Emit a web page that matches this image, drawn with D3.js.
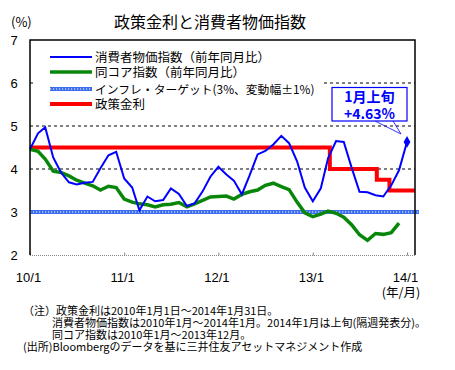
<!DOCTYPE html>
<html><head><meta charset="utf-8">
<script src="https://cdn.jsdelivr.net/npm/d3@7"></script>
<style>
html,body{margin:0;padding:0;background:#fff;}
text{font-family:"Noto Sans CJK JP","Noto Sans",sans-serif;}
.num{font-family:"Liberation Sans",Arial,sans-serif;}
</style>
</head><body>
<svg id="c" width="455" height="370"></svg>
<script>
// ---- data ----
const cpiStart = "2010-01";
const cpi = [4.46,4.83,4.97,4.27,3.92,3.69,3.64,3.68,3.70,4.02,4.32,4.40,
             3.78,3.57,3.04,3.36,3.25,3.28,3.55,3.42,3.14,3.20,3.48,3.82,
             4.05,3.87,3.73,3.41,3.85,4.34,4.42,4.57,4.77,4.60,4.18,3.57,
             3.25,3.55,4.25,4.65,4.63,4.02,3.47,3.46,3.39,3.36,3.62,3.97,
             4.63];
const core = [4.46,4.41,4.23,3.95,3.92,3.84,3.74,3.67,3.61,3.51,3.60,3.57,
              3.30,3.23,3.19,3.17,3.12,3.17,3.18,3.22,3.12,3.19,3.27,3.35,
              3.36,3.37,3.30,3.41,3.47,3.51,3.62,3.67,3.59,3.52,3.23,2.98,
              2.89,2.95,3.02,2.97,2.88,2.70,2.47,2.34,2.50,2.48,2.52,2.74];
const rateDates = ["2010-01-01","2013-03-08","2013-09-06","2013-10-25","2014-01-31"];
const rateValues = [4.5,4.0,3.75,3.5,3.5];
const target = 3.0;
const yTicks = [2,3,4,5,6,7];
const xTickDates = ["2010-01-01","2011-01-01","2012-01-01","2013-01-01","2014-01-01"];
const xTickLabels = ["10/1","11/1","12/1","13/1","14/1"];
const legendLabels = ["消費者物価指数（前年同月比）","同コア指数（前年同月比）","インフレ・ターゲット(3%、変動幅±1%)","政策金利"];
const title = "政策金利と消費者物価指数";
const calloutLines = ["1月上旬","+4.63%"];
const notes = ["（注）政策金利は2010年1月1日～2014年1月31日。",
               "消費者物価指数は2010年1月～2014年1月。2014年1月は上旬(隔週発表分)。",
               "同コア指数は2010年1月～2013年12月。",
               "(出所)Bloombergのデータを基に三井住友アセットマネジメント作成"];

// ---- setup ----
const parse = d3.utcParse("%Y-%m-%d");
const monthDate = i => d3.utcMonth.offset(parse(cpiStart+"-01"), i);
const cpiData = cpi.map((v,i)=>({d:monthDate(i),v}));
const coreData = core.map((v,i)=>({d:monthDate(i),v}));
const rateData = rateDates.map((s,i)=>({d:parse(s),v:rateValues[i]}));

const L=30,R=415,T=40,B=255;
const x = d3.scaleUtc().domain([parse("2010-01-01"),parse("2014-02-01")]).range([L,R]);
const y = d3.scaleLinear().domain([2,7]).range([B,T]);
const svg = d3.select("#c");

// gridlines
svg.append("g").selectAll("line").data([4,5,6]).join("line")
  .attr("x1",L).attr("x2",R).attr("y1",d=>y(d)).attr("y2",d=>y(d))
  .attr("stroke","#000").attr("stroke-width",1).attr("stroke-dasharray","3,3");

// bottom axis (gray dotted) with ticks
svg.append("line").attr("x1",L).attr("x2",R).attr("y1",B+0.5).attr("y2",B+0.5)
  .attr("stroke","#888").attr("stroke-width",1).attr("stroke-dasharray","1,1");
const xa = d3.axisBottom(x).tickValues(xTickDates.map(parse)).tickFormat((d,i)=>xTickLabels[i]).tickSizeInner(-3).tickSizeOuter(0).tickPadding(17);
const gx = svg.append("g").attr("transform",`translate(0,${B+0.5})`).call(xa);
gx.select(".domain").remove();
gx.selectAll(".tick line").attr("stroke","#888");
gx.selectAll(".tick text").attr("class","num").attr("font-size",13).attr("fill","#000").attr("dx",-2);

// y labels
const ya = d3.axisLeft(y).tickValues(yTicks).tickSize(0).tickPadding(10).tickFormat(d3.format("d"));
const gy = svg.append("g").attr("transform",`translate(${L},0)`).call(ya);
gy.select(".domain").remove();
gy.selectAll(".tick text").attr("class","num").attr("font-size",13).attr("fill","#000").attr("text-anchor","middle").attr("dx",-6);

// target line
const tl = d3.line().x(d=>d[0]).y(d=>d[1]);
const tpts = [[L,y(target)],[R+4,y(target)]];
svg.append("path").attr("d",tl(tpts)).attr("stroke","#3a6cf0").attr("stroke-width",4).attr("fill","none");
svg.append("path").attr("d",tl(tpts)).attr("stroke","#fff").attr("stroke-width",1.2).attr("stroke-dasharray","1.2,1.8").attr("fill","none");

// lines
const line = d3.line().x(d=>x(d.d)).y(d=>y(d.v));
svg.append("path").datum(rateData).attr("d",line.curve(d3.curveStepAfter))
  .attr("fill","none").attr("stroke","#ff0000").attr("stroke-width",4);
line.curve(d3.curveLinear);
svg.append("path").datum(coreData).attr("d",line)
  .attr("fill","none").attr("stroke","#0a8a0a").attr("stroke-width",3.5);
svg.append("path").datum(coreData).attr("d",line)
  .attr("fill","none").attr("stroke","#055a05").attr("stroke-width",1).attr("stroke-dasharray","1,2").attr("opacity",0.6);
svg.append("path").datum(cpiData).attr("d",line)
  .attr("fill","none").attr("stroke","#0000ff").attr("stroke-width",2);

// last point diamond
const last = cpiData[cpiData.length-1];
svg.append("path").attr("d",d3.symbol(d3.symbolDiamond,40)())
  .attr("transform",`translate(${x(last.d)},${y(last.v)})`).attr("fill","#0000ff");

// frame
svg.append("path").attr("d",`M${L},${B}V${T}H${R}V${B}`).attr("fill","none").attr("stroke","#000").attr("stroke-width",1.5);

// legend
svg.append("rect").attr("x",36).attr("y",45).attr("width",286).attr("height",68).attr("fill","#fff");
const ly = [57,72,89,104];
const lg = svg.append("g");
lg.append("line").attr("x1",50).attr("x2",92).attr("y1",ly[0]).attr("y2",ly[0]).attr("stroke","#0000ff").attr("stroke-width",2);
lg.append("line").attr("x1",50).attr("x2",92).attr("y1",ly[1]).attr("y2",ly[1]).attr("stroke","#0a8a0a").attr("stroke-width",3.5);
lg.append("line").attr("x1",50).attr("x2",92).attr("y1",ly[1]).attr("y2",ly[1]).attr("stroke","#055a05").attr("stroke-width",1).attr("stroke-dasharray","1,2").attr("opacity",0.6);
lg.append("line").attr("x1",50).attr("x2",92).attr("y1",ly[2]).attr("y2",ly[2]).attr("stroke","#3a6cf0").attr("stroke-width",4);
lg.append("line").attr("x1",50).attr("x2",92).attr("y1",ly[2]).attr("y2",ly[2]).attr("stroke","#fff").attr("stroke-width",1.2).attr("stroke-dasharray","1.2,1.8");
lg.append("line").attr("x1",50).attr("x2",92).attr("y1",ly[3]).attr("y2",ly[3]).attr("stroke","#ff0000").attr("stroke-width",4);
lg.selectAll("text").data(legendLabels).join("text")
  .attr("x",95).attr("y",(d,i)=>ly[i]+4.5).attr("font-size",(d,i)=>i===2?11.8:12.5).attr("fill","#000").text(d=>d);

// callout
const cx = 332, cy = 87.5, cw = 75, ch = 33.5;
const tip = [401,134];
svg.append("path").attr("d",`M375,${cy+ch}L${tip[0]},${tip[1]}L393,${cy+ch}`).attr("fill","none").attr("stroke","#0000ff").attr("stroke-width",0.8);
svg.append("rect").attr("x",cx).attr("y",cy).attr("width",cw).attr("height",ch).attr("fill","#fff").attr("stroke","#0000ff").attr("stroke-width",1.2);
svg.selectAll(".co").data(calloutLines).join("text").attr("class","co")
  .attr("x",cx+cw/2).attr("y",(d,i)=>cy+14.5+i*17).attr("text-anchor","middle")
  .attr("font-size",14).attr("font-weight","bold").attr("fill","#0000ff").text(d=>d);

// title & units
svg.append("text").attr("x",210).attr("y",28).attr("text-anchor","middle").attr("font-size",16).text(title);
svg.append("text").attr("x",11).attr("y",27).attr("font-size",13).text("(%)");
svg.append("text").attr("x",401).attr("y",297).attr("text-anchor","middle").attr("font-size",12.5).text("(年/月)");

// notes
const nx = [23,52,52,23];
svg.selectAll(".note").data(notes).join("text").attr("class","note")
  .attr("x",(d,i)=>nx[i]).attr("y",(d,i)=>315+i*12).attr("font-size",11).attr("fill","#000").text(d=>d);
</script>
</body></html>
